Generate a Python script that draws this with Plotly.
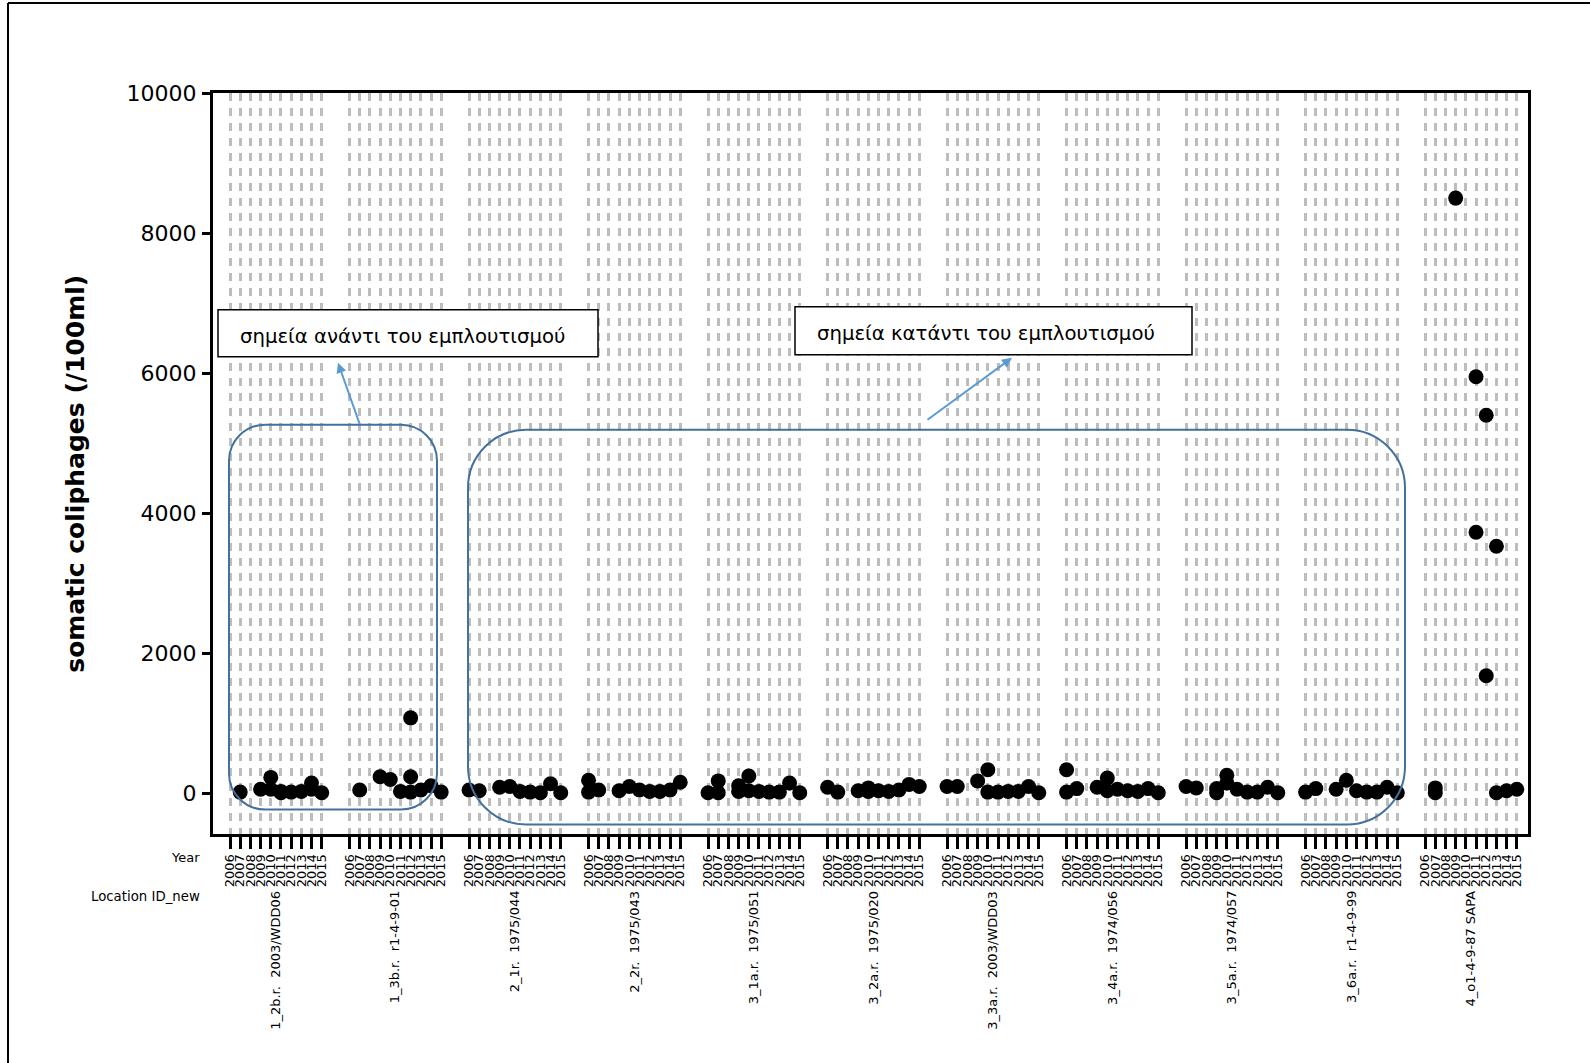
import plotly.graph_objects as go

# Sampling years shown for every location
years = [2006, 2007, 2008, 2009, 2010, 2011, 2012, 2013, 2014, 2015]
year_labels = [str(y) for y in years]

# Location IDs in plotting order
locations = [
    "1_2b.r.  2003/WDD06",
    "1_3b.r.  r1-4-9-01",
    "2_1r.  1975/044",
    "2_2r.  1975/043",
    "3_1a.r.  1975/051",
    "3_2a.r.  1975/020",
    "3_3a.r.  2003/WDD03",
    "3_4a.r.  1974/056",
    "3_5a.r.  1974/057",
    "3_6a.r.  r1-4-9-99",
    "4_o1-4-9-87 SAPA",
]

# Somatic coliphages (/100ml), one list of measurements per year (2006..2015)
site_1_2b = [[], [20], [], [60], [230, 60], [30, 10], [20], [30], [150, 60], [10]]
site_1_3b = [[], [50], [], [240], [200], [30], [1080, 240, 20], [50], [110], [20]]
site_2_1 = [[50], [40], [], [90], [100], [30], [20], [10], [140], [10]]
site_2_2 = [[190, 20], [50], [], [40], [100], [50], [30], [30], [50], [160]]
site_3_1a = [[10], [180, 10], [], [110, 30], [250, 40], [30], [20], [20], [150], [10]]
site_3_2a = [[90], [20], [], [40], [80, 30], [40], [30], [50], [130], [100]]
site_3_3a = [[100], [100], [], [180], [340, 20], [20], [30], [30], [100], [10]]
site_3_4a = [[340, 20], [70], [], [90], [220, 40], [60], [40], [30], [70], [10]]
site_3_5a = [[100], [80], [], [70, 10], [260, 150], [60], [20], [20], [90], [10]]
site_3_6a = [[20], [70], [], [60], [190], [40], [20], [20], [90], [10]]
site_4_sapa = [[], [80, 10], [], [8500], [], [5950, 3730], [5400, 1680], [3530, 10], [40], [60]]

site_values = [site_1_2b, site_1_3b, site_2_1, site_2_2, site_3_1a, site_3_2a,
               site_3_3a, site_3_4a, site_3_5a, site_3_6a, site_4_sapa]

y_ticks = [0, 2000, 4000, 6000, 8000, 10000]

# Layout geometry (pixels)
W, H = 1590, 1063
L, R, T, B = 213, 1528, 93, 834.5
GROUP_STEP = 11.73          # slots between first years of consecutive locations
X_RANGE = [-1.67, 10 * GROUP_STEP + 9 + 1.1]
Y_RANGE = [-578, 10000]


def xp(px):
    return (px - L) / (R - L)


def yp(py):
    return (B - py) / (B - T)


def pos(g, yi):
    return g * GROUP_STEP + yi


xs, ys = [], []
tick_pos, tick_txt = [], []
for g, site in enumerate(site_values):
    for yi, vals in enumerate(site):
        tick_pos.append(pos(g, yi))
        tick_txt.append(year_labels[yi])
        for v in vals:
            xs.append(pos(g, yi))
            ys.append(v)

FONT = "DejaVu Sans"

fig = go.Figure()
fig.add_trace(go.Scatter(
    x=xs, y=ys, mode="markers",
    marker=dict(size=15, color="black", line=dict(width=0)),
    showlegend=False, hoverinfo="y",
))

fig.update_layout(
    width=W, height=H,
    margin=dict(l=L, r=W - R, t=T, b=H - B, pad=0),
    paper_bgcolor="white", plot_bgcolor="white",
    font=dict(family=FONT, color="black"),
    showlegend=False,
)

fig.update_xaxes(
    range=X_RANGE, tickmode="array", tickvals=tick_pos, ticktext=tick_txt,
    tickangle=-90, tickfont=dict(size=13, family=FONT),
    ticks="outside", ticklen=12, tickwidth=3, tickcolor="black",
    showline=True, linecolor="black", linewidth=3, mirror=True,
    showgrid=True, gridcolor="#bdbdbd", gridwidth=3, griddash="8px,7px",
    zeroline=False, automargin=False,
)
fig.update_yaxes(
    range=Y_RANGE, tickmode="array", tickvals=y_ticks,
    ticktext=[str(v) for v in y_ticks], tickfont=dict(size=22, family=FONT),
    ticks="outside", ticklen=8, tickwidth=2.5, tickcolor="black",
    ticklabelstandoff=1,
    showline=True, linecolor="black", linewidth=3, mirror=True,
    showgrid=False, zeroline=False, automargin=False,
)

annotations = []

# Y-axis title
annotations.append(dict(
    text="<b>somatic coliphages (/100ml)</b>", textangle=-90,
    xref="paper", yref="paper", x=xp(76), y=yp(474),
    xanchor="center", yanchor="middle", showarrow=False,
    font=dict(size=25, family=FONT),
))

# Row headers under the x axis
annotations.append(dict(text="Year", xref="paper", yref="paper",
                        x=xp(202), y=yp(858), xanchor="right", yanchor="middle",
                        showarrow=False, font=dict(size=13, family=FONT)))
annotations.append(dict(text="Location ID_new", xref="paper", yref="paper",
                        x=xp(202), y=yp(897), xanchor="right", yanchor="middle",
                        showarrow=False, font=dict(size=13.3, family=FONT)))

# Location labels, centred under each group of years
for g, name in enumerate(locations):
    annotations.append(dict(
        text=name.replace(" ", "&nbsp;"), textangle=-90,
        xref="x", yref="paper", x=pos(g, 4.5), y=yp(889),
        xanchor="center", yanchor="top", showarrow=False,
        font=dict(size=13, family=FONT),
    ))

# Callout boxes
callouts = [
    ("σημεία ανάντι του εμπλουτισμού", 218, 598, 310, 357),
    ("σημεία κατάντι του εμπλουτισμού", 795, 1192, 307, 355),
]
shapes = []
for text, x0, x1, y0, y1 in callouts:
    shapes.append(dict(type="rect", xref="paper", yref="paper",
                       x0=xp(x0), x1=xp(x1), y0=yp(y1), y1=yp(y0),
                       line=dict(color="black", width=1.5), fillcolor="white",
                       layer="above"))
    annotations.append(dict(text=text, xref="paper", yref="paper",
                            x=xp(x0 + 20), y=yp((y0 + y1) / 2 + 3),
                            xanchor="left", yanchor="middle", showarrow=False,
                            font=dict(size=19.7, family=FONT)))


def rounded_rect(x0, x1, y0, y1, r):
    """SVG path (paper coords) of a rectangle with circular corners of r px."""
    k = 0.5523 * r
    P = lambda px, py: f"{xp(px):.5f},{yp(py):.5f}"
    return (
        f"M{P(x0 + r, y0)} L{P(x1 - r, y0)} "
        f"C{P(x1 - r + k, y0)} {P(x1, y0 + r - k)} {P(x1, y0 + r)} "
        f"L{P(x1, y1 - r)} "
        f"C{P(x1, y1 - r + k)} {P(x1 - r + k, y1)} {P(x1 - r, y1)} "
        f"L{P(x0 + r, y1)} "
        f"C{P(x0 + r - k, y1)} {P(x0, y1 - r + k)} {P(x0, y1 - r)} "
        f"L{P(x0, y0 + r)} "
        f"C{P(x0, y0 + r - k)} {P(x0 + r - k, y0)} {P(x0 + r, y0)} Z"
    )


BOX_BLUE = "#44709d"
shapes.append(dict(type="path", xref="paper", yref="paper",
                   path=rounded_rect(229, 437, 425, 810, 36),
                   line=dict(color=BOX_BLUE, width=2), layer="above"))
shapes.append(dict(type="path", xref="paper", yref="paper",
                   path=rounded_rect(468, 1405, 430, 825, 58),
                   line=dict(color=BOX_BLUE, width=2), layer="above"))

# Arrows from the grouping boxes to their captions
ARROW_BLUE = "#5b9bd5"
for (hx, hy), (tx, ty) in [((338, 363), (360, 425)), ((1012, 358), (926, 421))]:
    annotations.append(dict(
        text="", xref="paper", yref="paper", x=xp(hx), y=yp(hy),
        axref="pixel", ayref="pixel", ax=tx - hx, ay=ty - hy,
        showarrow=True, arrowhead=2, arrowsize=1, arrowwidth=2,
        arrowcolor=ARROW_BLUE,
    ))

# Outer frame on the top and left of the page
shapes.append(dict(type="line", xref="paper", yref="paper",
                   x0=xp(8), x1=xp(W + 5), y0=yp(3), y1=yp(3),
                   line=dict(color="black", width=2)))
shapes.append(dict(type="line", xref="paper", yref="paper",
                   x0=xp(8), x1=xp(8), y0=yp(3), y1=yp(H + 5),
                   line=dict(color="black", width=2)))

fig.update_layout(annotations=annotations, shapes=shapes)

fig.write_html("out.html")
